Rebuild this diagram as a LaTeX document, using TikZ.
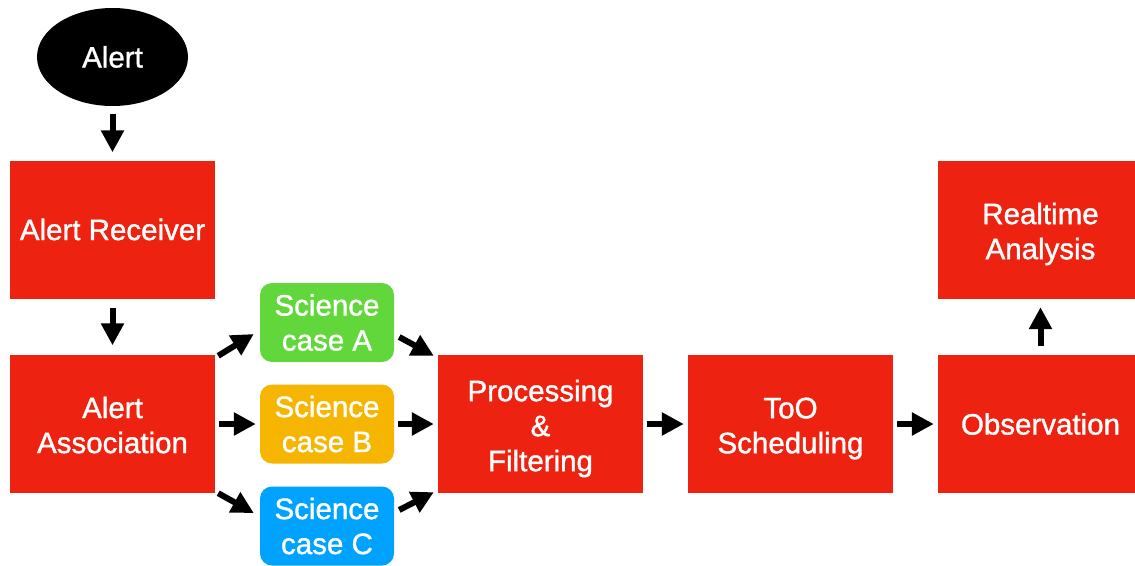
\documentclass[tikz,border=0pt]{standalone}
\usepackage{fontspec}
\setmainfont[FakeBold=1.2]{Liberation Sans}
\usetikzlibrary{arrows.meta,calc,shapes.geometric}
\definecolor{boxred}{HTML}{EE2211}
\definecolor{casegreen}{HTML}{62D73B}
\definecolor{caseyellow}{HTML}{F6B500}
\definecolor{caseblue}{HTML}{00A2FF}
\begin{document}
\begin{tikzpicture}[x=1pt,y=-1pt,
  every node/.style={text=white, font=\fontsize{29.5}{35}\selectfont, align=center, inner sep=0pt},
  redbox/.style={fill=boxred, minimum width=205pt, minimum height=138pt},
  lowtext/.style={label={[yshift=-4.5pt]center:#1}},
  casebox/.style={rounded corners=12pt, minimum width=134pt, minimum height=79pt},
  flow/.style={line width=6pt, -{Triangle[width=22pt,length=22pt]}},
]
\useasboundingbox (0,0) rectangle (1135,565);

% pipeline stages
\node[ellipse, fill=black, minimum width=151pt, minimum height=98pt] (alert) at (112.5,57) {Alert};
\node[redbox] (recv) at (112.5,229.5) {Alert Receiver};
\node[redbox, label={[yshift=-1pt]center:Alert\\Association}] (assoc) at (112.5,424) {};
\node[casebox, fill=casegreen] (A) at (327,322.5) {Science\\case A};
\node[casebox, fill=caseyellow] (B) at (327,424) {Science\\case B};
\node[casebox, fill=caseblue] (C) at (327,526) {Science\\case C};
\node[redbox, lowtext={Processing\\\&\\Filtering}] (proc) at (540.5,424) {};
\node[redbox, lowtext={ToO\\Scheduling}] (too) at (790.5,424) {};
\node[redbox] (obs) at (1040.5,424) {Observation};
\node[redbox, lowtext={Realtime\\Analysis}] (ra) at (1040.5,229.5) {};

% connectors
\draw[flow, shorten <=8pt, shorten >=8pt] (alert) -- (recv);
\draw[flow, shorten <=9.5pt, shorten >=9.5pt] (recv) -- (assoc);
\draw[flow] ($(assoc.north east)+(3,1)$) -- ($(A.west)+(-6,11.5)$);
\draw[flow, shorten <=4pt, shorten >=4pt] (assoc) -- (B);
\draw[flow] ($(assoc.south east)+(3,0)$) -- ($(C.west)+(-6,-13)$);
\draw[flow] ($(A.east)+(5,14.5)$) -- ($(proc.north west)+(-4,1)$);
\draw[flow, shorten <=4pt, shorten >=4pt] (B) -- (proc);
\draw[flow] ($(C.east)+(5,-16)$) -- ($(proc.south west)+(-4,-1)$);
\draw[flow, shorten <=4pt, shorten >=4pt] (proc) -- (too);
\draw[flow, shorten <=4pt, shorten >=4pt] (too) -- (obs);
\draw[flow, shorten <=8.5pt, shorten >=8.5pt] (obs) -- (ra);
\end{tikzpicture}
\end{document}
